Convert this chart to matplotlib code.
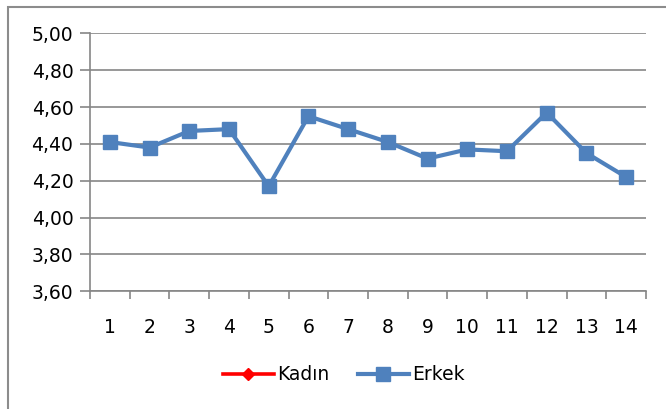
import matplotlib.pyplot as plt
from matplotlib.patches import Rectangle
from matplotlib.ticker import FuncFormatter, FixedLocator

# Data
categories = list(range(1, 15))
erkek = [4.41, 4.38, 4.47, 4.48, 4.17, 4.55, 4.48, 4.41, 4.32, 4.37, 4.36, 4.57, 4.35, 4.22]
kadin = []

plt.rcParams['font.family'] = ['DejaVu Sans']

fig = plt.figure(figsize=(6.66, 4.09), dpi=100)
ax = fig.add_axes([90 / 666, 1 - 291.3 / 409, 556 / 666, 258 / 409])

# outer chart border (clipped at right/bottom like the reference)
fig.patches.append(Rectangle((7.5 / 666, -0.05), 1.0, 1 - 6.5 / 409 + 0.05,
                             transform=fig.transFigure, fill=False,
                             edgecolor='#8c8c8c', linewidth=1.5))

ax.plot([], [], color='#ff0000', marker='D', markersize=6, linewidth=2.6, label='Kadın')
ax.plot(categories, erkek, color='#4f81bd', marker='s', markersize=10,
        linewidth=3.0, label='Erkek')

ax.set_xlim(0.5, 14.5)
ax.set_ylim(3.6, 5.0)
ax.set_yticks([3.6 + 0.2 * i for i in range(8)])
ax.yaxis.set_major_formatter(FuncFormatter(lambda v, p: f"{v:.2f}".replace('.', ',')))
ax.grid(axis='y', color='#868686', linewidth=1.2)
ax.set_axisbelow(True)

ax.set_xticks(categories)
ax.set_xticklabels([str(c) for c in categories])
ax.xaxis.set_minor_locator(FixedLocator([0.5 + i for i in range(15)]))
ax.tick_params(axis='x', which='major', length=0, pad=19, labelsize=13.5)
ax.tick_params(axis='x', which='minor', length=6, color='#868686', width=1.2, direction='out')
ax.tick_params(axis='y', length=7, color='#868686', width=1.2, labelsize=13.5, pad=5)

for s in ['top', 'right']:
    ax.spines[s].set_visible(False)
for s in ['left', 'bottom']:
    ax.spines[s].set_color('#868686')
    ax.spines[s].set_linewidth(1.2)

fig.legend(loc='center', bbox_to_anchor=(344 / 666, 1 - 375 / 409), ncol=2,
           frameon=False, fontsize=13.5, handlelength=2.7, handletextpad=0.2,
           columnspacing=1.5)

fig.savefig('out.png', dpi=100)
